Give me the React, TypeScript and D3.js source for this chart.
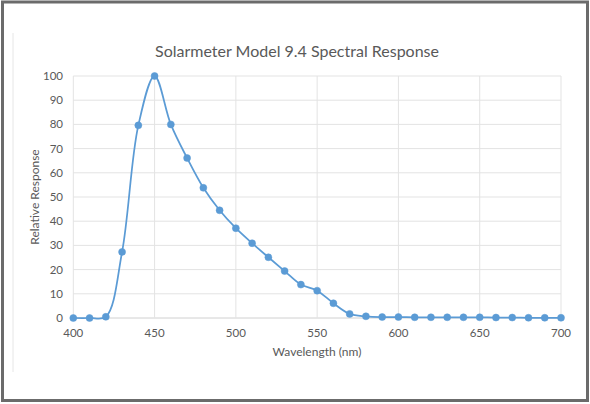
import React from "react";
import * as d3 from "d3";

const wavelengths = [400, 410, 420, 430, 440, 450, 460, 470, 480, 490, 500, 510, 520, 530, 540, 550, 560, 570, 580, 590, 600, 610, 620, 630, 640, 650, 660, 670, 680, 690, 700];
const response = [0, 0, 0.5, 27.3, 79.6, 100, 80, 66.1, 53.8, 44.5, 37.1, 30.9, 25.1, 19.4, 13.8, 11.3, 6.1, 1.7, 0.7, 0.4, 0.4, 0.3, 0.3, 0.3, 0.3, 0.3, 0.2, 0.2, 0.1, 0.1, 0.1];
const xTicks = [400, 450, 500, 550, 600, 650, 700];
const yTicks = [0, 10, 20, 30, 40, 50, 60, 70, 80, 90, 100];

const W = 590;
const H = 404;
const font = "Lato, 'Open Sans', sans-serif";

export default function App() {
  const x = d3.scaleLinear().domain([400, 700]).range([73.3, 561]);
  const y = d3.scaleLinear().domain([0, 100]).range([318, 76]);
  const pts: [number, number][] = wavelengths.map((w, i) => [x(w), y(response[i])]);
  const line = d3.line().curve(d3.curveCatmullRom.alpha(0.5))(pts) || "";
  const color = "#5b9bd5";
  const textColor = "#595959";
  return (
    <svg width={W} height={H} style={{ position: "absolute", left: 0, top: 0, fontFamily: font }}>
      <rect x={0} y={0} width={W} height={H} fill="#fff" />
      <rect x={2.5} y={2} width={585} height={398.5} fill="none" stroke="#6b6b6b" strokeWidth={3} />
      <line x1={13} x2={13} y1={33} y2={372} stroke="#e6e6e6" strokeWidth={1} />
      {yTicks.map((t) => (
        <line key={"gy" + t} x1={x(400)} x2={x(700)} y1={y(t)} y2={y(t)} stroke={t === 0 ? "#d0d0d0" : "#e3e3e3"} strokeWidth={1} />
      ))}
      {xTicks.map((t) => (
        <line key={"gx" + t} x1={x(t)} x2={x(t)} y1={y(100)} y2={y(0)} stroke="#e3e3e3" strokeWidth={1} />
      ))}
      {yTicks.map((t) => (
        <text key={"ty" + t} x={63} y={y(t) + 4} textAnchor="end" fontSize={11.5} fill={textColor}>{t}</text>
      ))}
      {xTicks.map((t) => (
        <text key={"tx" + t} x={x(t)} y={337} textAnchor="middle" fontSize={11.5} fill={textColor}>{t}</text>
      ))}
      <text x={317} y={356} textAnchor="middle" fontSize={12} fill={textColor}>Wavelength (nm)</text>
      <text transform={`translate(39,197) rotate(-90)`} textAnchor="middle" fontSize={12} fill={textColor}>Relative Response</text>
      <text x={297} y={57} textAnchor="middle" fontSize={16} fill={textColor}>Solarmeter Model 9.4 Spectral Response</text>
      <path d={line} fill="none" stroke={color} strokeWidth={1.75} />
      {pts.map((p, i) => (
        <circle key={i} cx={p[0]} cy={p[1]} r={3.5} fill={color} stroke={color} strokeWidth={0.5} />
      ))}
    </svg>
  );
}
